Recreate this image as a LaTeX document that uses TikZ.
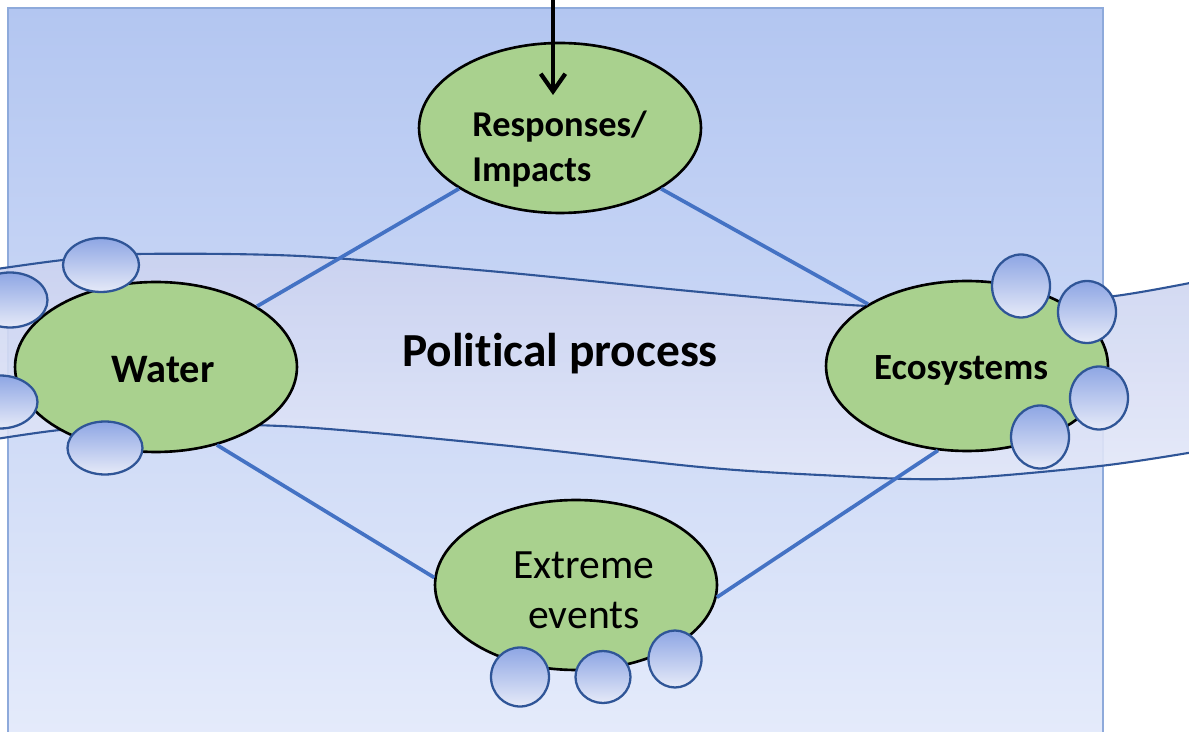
\documentclass[tikz,border=0pt]{standalone}
\usepackage{fontspec}
\setmainfont{Carlito}[Ligatures=NoCommon]
\usetikzlibrary{arrows.meta,shapes.geometric}

\definecolor{frame}{HTML}{8EAADB}
\definecolor{boxtop}{HTML}{B3C6F1}
\definecolor{boxbot}{HTML}{E6ECFB}
\definecolor{bandtop}{HTML}{CBD3F0}
\definecolor{bandbot}{HTML}{E3E7F8}
\definecolor{bandline}{HTML}{2F5597}
\definecolor{leaf}{HTML}{A9D18E}
\definecolor{bubbletop}{HTML}{8EA6E4}
\definecolor{bubblebot}{HTML}{E6EAF8}
\definecolor{linkblue}{HTML}{4472C4}

\begin{document}
\begin{tikzpicture}[x=0.02cm,y=-0.02cm]
    \tikzset{topic/.style = {draw, ellipse, line width=1.5pt, fill=leaf, minimum width=5.64cm, minimum height=3.4cm, inner sep=0pt}}
    \tikzset{bubble/.style = {draw=bandline, ellipse, line width=1.3pt, top color=bubbletop, bottom color=bubblebot, inner sep=0pt}}
    \tikzset{link/.style = {draw=linkblue, line width=2.1pt}}
    \tikzset{caption/.style = {inner sep=0pt, font=\fontsize{23}{27}\selectfont\bfseries}}
    \clip (0,0) rectangle (1189,732);
    % frame and band
    \path[draw=frame, line width=1.4pt, top color=boxtop, bottom color=boxbot] (8,8) rectangle (1103,760);
    \path[top color=bandtop, bottom color=bandbot, opacity=0.9]
        plot[smooth] coordinates {(-10,270) (63,260) (138,254) (300,256) (500,272) (700,292) (867,306) (1000,306) (1115,296) (1200,281)}
        -- plot[smooth] coordinates {(1200,451) (1100,466) (947,479) (820,475) (700,467) (500,445) (300,427) (150,424) (60,430) (-10,440)}
        -- cycle;
    \draw[bandline, line width=1.2pt] plot[smooth] coordinates {(-10,270) (63,260) (138,254) (300,256) (500,272) (700,292) (867,306) (1000,306) (1115,296) (1200,281)};
    \draw[bandline, line width=1.2pt] plot[smooth] coordinates {(1200,451) (1100,466) (947,479) (820,475) (700,467) (500,445) (300,427) (150,424) (60,430) (-10,440)};
    % topics
    \node[topic] (resp) at (560,128) {};
    \node[topic] (water) at (156,367) {};
    \node[topic] (eco) at (967,366) {};
    \node[topic] (extreme) at (576,585) {};
    \draw[link] (resp.-149) -- (water.31);
    \draw[link] (resp.-31) -- (eco.148);
    \draw[link] (water.-52) -- (extreme.177);
    \draw[link] (extreme.-5) -- (eco.-109);
    % bubbles
    \node[bubble, minimum width=1.52cm, minimum height=1.08cm] (w1) at (101,265) {};
    \node[bubble, minimum width=1.5cm, minimum height=1.1cm] (w2) at (10,300) {};
    \node[bubble, minimum width=1.5cm, minimum height=1.06cm] (w3) at (0,402) {};
    \node[bubble, minimum width=1.5cm, minimum height=1.06cm] (w4) at (105,448) {};
    \node[bubble, minimum width=1.16cm, minimum height=1.26cm] (e1) at (1021,286) {};
    \node[bubble, minimum width=1.16cm, minimum height=1.24cm] (e2) at (1087,312) {};
    \node[bubble, minimum width=1.16cm, minimum height=1.26cm] (e3) at (1099,398) {};
    \node[bubble, minimum width=1.16cm, minimum height=1.26cm] (e4) at (1040,437) {};
    \node[bubble, minimum width=1.16cm, minimum height=1.18cm] (x1) at (520,677) {};
    \node[bubble, minimum width=1.1cm, minimum height=1.04cm] (x2) at (603,677) {};
    \node[bubble, minimum width=1.06cm, minimum height=1.14cm] (x3) at (675,659) {};
    % texts
    \node[caption, anchor=west, align=left, font=\fontsize{20.7}{25.5}\selectfont\bfseries] (resp-text) at (472,149) {Responses/\\Impacts};
    \node[caption, anchor=base] (water-text) at (163,383) {Water};
    \node[caption, anchor=base, font=\fontsize{21}{25}\selectfont\bfseries] (eco-text) at (961,380) {Ecosystems};
    \node[caption, anchor=base, font=\fontsize{27}{32}\selectfont\bfseries] (pol-text) at (560,367) {Political process};
    \node[inner sep=0pt, align=center, font=\fontsize{23.7}{28.4}\selectfont] (extreme-text) at (584,590) {Extreme\\events};
    % feed arrow
    \coordinate (feed) at (553,-10);
    \coordinate (feed-tip) at (553,95);
    \draw[-{Straight Barb[length=10pt,width=14pt]}, line width=2.4pt] (feed) -- (feed-tip);
\end{tikzpicture}
\end{document}
